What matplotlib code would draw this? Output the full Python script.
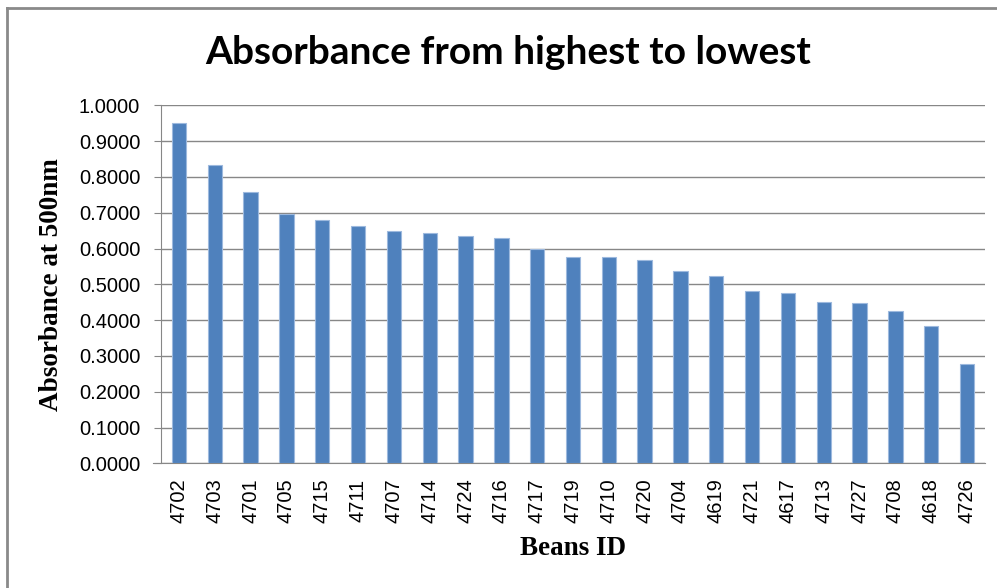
import matplotlib.pyplot as plt
from matplotlib.lines import Line2D
from matplotlib.ticker import FormatStrFormatter

bean_ids = ['4702', '4703', '4701', '4705', '4715', '4711', '4707', '4714',
            '4724', '4716', '4717', '4719', '4710', '4720', '4704', '4619',
            '4721', '4617', '4713', '4727', '4708', '4618', '4726']
absorbance = [0.951, 0.832, 0.759, 0.696, 0.681, 0.662, 0.650, 0.644,
              0.634, 0.630, 0.600, 0.577, 0.575, 0.569, 0.537, 0.522,
              0.481, 0.475, 0.450, 0.447, 0.425, 0.384, 0.278]
y_ticks = [0.0, 0.1, 0.2, 0.3, 0.4, 0.5, 0.6, 0.7, 0.8, 0.9, 1.0]

W, H = 997, 588
fig = plt.figure(figsize=(W / 100, H / 100), dpi=100)
ax = fig.add_axes([161 / W, 1 - 463.3 / H, (985 - 161) / W, (463.3 - 105.3) / H])

x = list(range(len(bean_ids)))
ax.bar(x, absorbance, width=0.4, color='#4F81BD', edgecolor='#9DB9DE',
       linewidth=0.8, zorder=3)

ax.set_xlim(-0.5, len(bean_ids) - 0.5)
ax.set_ylim(0, 1.0)
ax.set_yticks(y_ticks)
ax.yaxis.set_major_formatter(FormatStrFormatter('%.4f'))
ax.grid(axis='y', color='#878787', linewidth=1.0, zorder=0)

ax.set_xticks(x)
ax.set_xticklabels(bean_ids, rotation=90, family='Liberation Sans', fontsize=14.5)
for lbl in ax.get_yticklabels():
    lbl.set_family('Liberation Sans')
    lbl.set_fontsize(14.5)
ax.tick_params(axis='x', length=0, pad=11)
ax.tick_params(axis='y', length=5, color='#878787', pad=10, direction='out')

for side in ['top', 'right']:
    ax.spines[side].set_visible(False)
ax.spines['left'].set_color('#878787')
ax.spines['bottom'].set_color('#878787')
ax.spines['bottom'].set_bounds(-0.72, len(bean_ids) - 0.5)

ax.set_xlabel('Beans ID', family='Liberation Serif', fontweight='bold', fontsize=19.5)
ax.xaxis.set_label_coords((573 - 161) / 824, (463.3 - 536) / 358)
ax.set_ylabel('Absorbance at 500nm', family='Liberation Serif', fontweight='bold',
              fontsize=19.5)
ax.yaxis.set_label_coords((64 - 161) / 824, 0.5)

fig.text(508 / W, 1 - 53 / H, 'Absorbance from highest to lowest',
         ha='center', va='center', family='Lato', fontweight='bold', fontsize=28)

# outer chart frame (top and left edges only are visible)
fig.add_artist(Line2D([6.5 / W, 1], [1 - 8 / H, 1 - 8 / H], color='#8A8A8A',
                      linewidth=2, transform=fig.transFigure))
fig.add_artist(Line2D([6.5 / W, 6.5 / W], [0, 1 - 8 / H], color='#8A8A8A',
                      linewidth=2, transform=fig.transFigure))

fig.savefig('out.png', dpi=100)
